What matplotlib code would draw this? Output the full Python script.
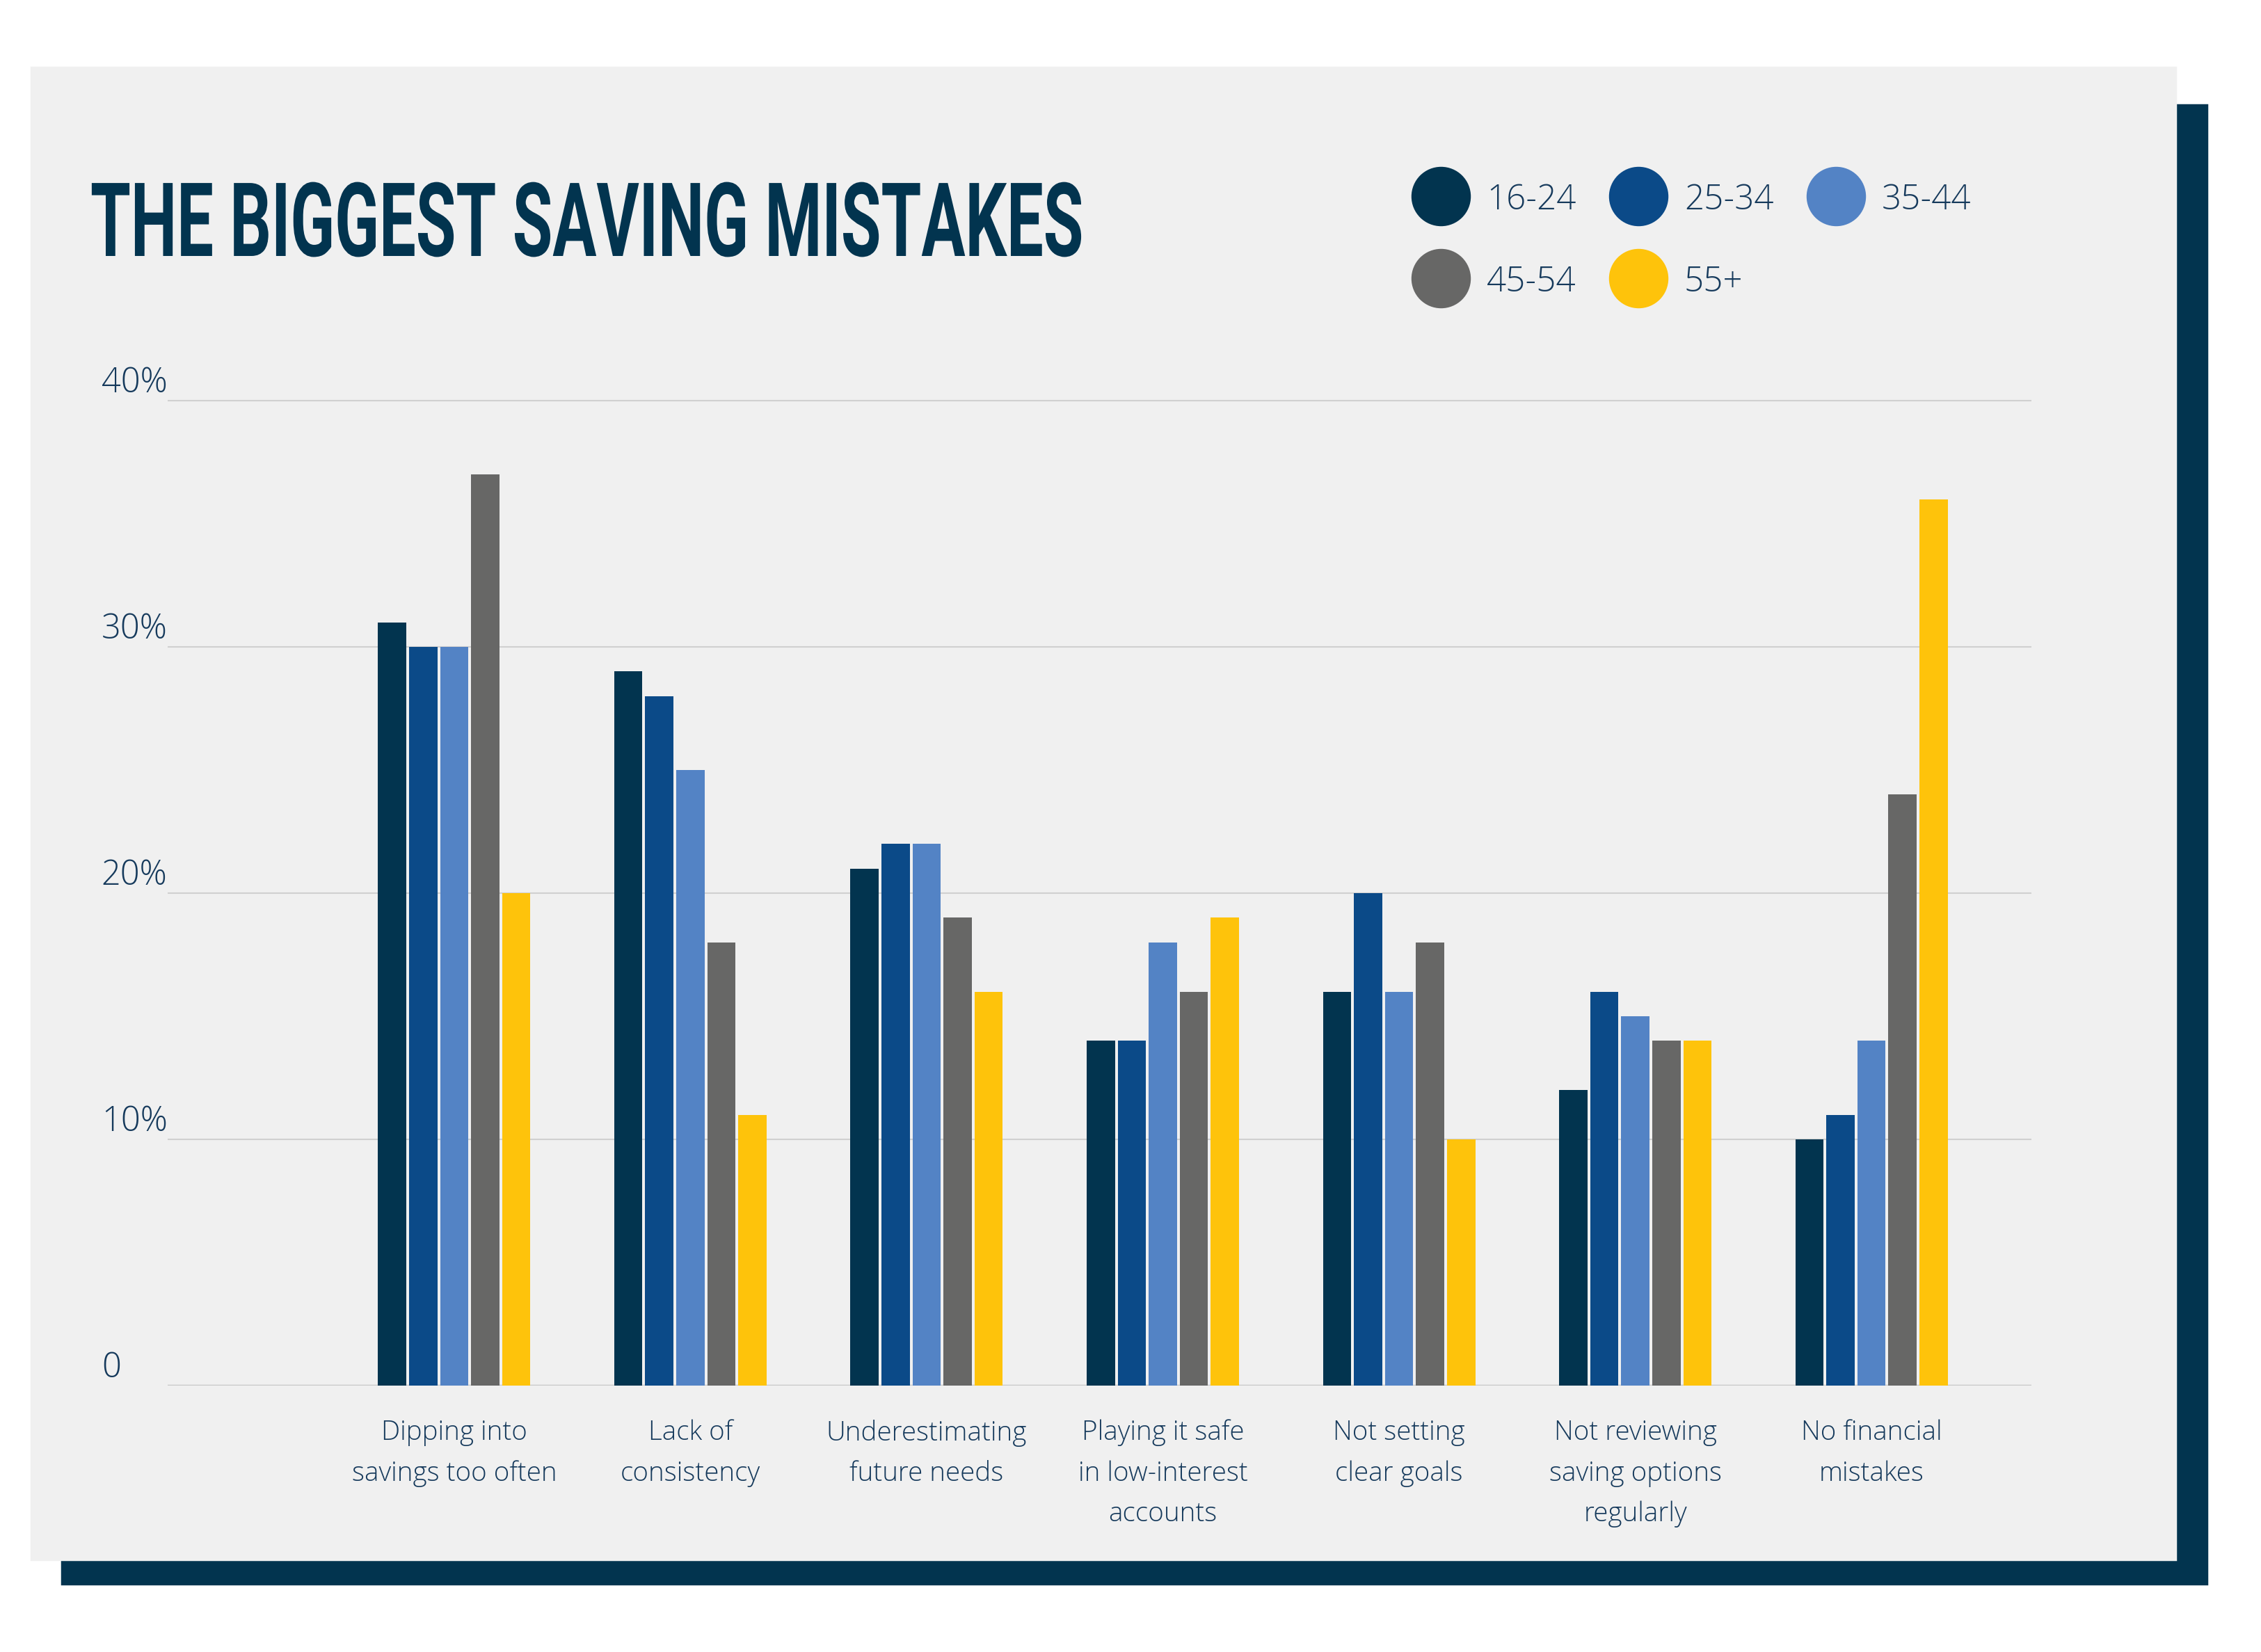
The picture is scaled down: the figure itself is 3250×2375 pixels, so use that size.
import matplotlib
matplotlib.use('Agg')
import matplotlib.pyplot as plt
from matplotlib.patches import Rectangle
from matplotlib.lines import Line2D
from matplotlib.text import Text
from matplotlib.patheffects import AbstractPathEffect
from matplotlib.transforms import Affine2D, Bbox
import numpy as np

# --- data ---
categories = ['Dipping into\nsavings too often', 'Lack of\nconsistency', 'Underestimating\nfuture needs',
              'Playing it safe\nin low-interest\naccounts', 'Not setting\nclear goals',
              'Not reviewing\nsaving options\nregularly', 'No financial\nmistakes']
age_groups = ['16-24', '25-34', '35-44', '45-54', '55+']
v_16_24 = [31, 29, 21, 14, 16, 12, 10]
v_25_34 = [30, 28, 22, 14, 20, 16, 11]
v_35_44 = [30, 25, 22, 18, 16, 15, 14]
v_45_54 = [37, 18, 19, 16, 18, 14, 24]
v_55 = [20, 11, 16, 19, 10, 14, 36]
series = [v_16_24, v_25_34, v_35_44, v_45_54, v_55]
colors = ['#02344f', '#0b4a88', '#5383c5', '#676766', '#fec30b']
y_ticks = [0, 10, 20, 30, 40]
y_ticklabels = ['0', '10%', '20%', '30%', '40%']

NAVY = '#02344f'
TXT = '#163a5c'
W, H = 3250, 2375


def fx(px): return px / W
def fy(py): return 1 - py / H


class Squeeze(AbstractPathEffect):
    # horizontal squeeze to fake a condensed title face
    def __init__(self, sx):
        super().__init__()
        self.sx = sx

    def draw_path(self, renderer, gc, tpath, affine, rgbFace=None):
        renderer.draw_path(gc, tpath, Affine2D().scale(self.sx, 1) + affine, rgbFace)


class CondensedText(Text):
    # left-anchored text drawn squeezed; extent reports the squeezed width
    def __init__(self, *args, sx=0.635, **kw):
        super().__init__(*args, **kw)
        self.sx = sx
        self.set_path_effects([Squeeze(sx)])

    def get_window_extent(self, renderer=None, dpi=None):
        bb = super().get_window_extent(renderer, dpi)
        return Bbox.from_extents(bb.x0, bb.y0, bb.x0 + bb.width * self.sx, bb.y1)


fig = plt.figure(figsize=(13, 9.5), dpi=250, facecolor='white')

# backdrop: navy shadow + light panel
fig.patches.append(Rectangle((fx(89), fy(2277)), fx(3172) - fx(89), (2277 - 151) / H,
                             transform=fig.transFigure, color=NAVY, zorder=-10))
fig.patches.append(Rectangle((fx(45), fy(2242)), fx(3127) - fx(45), (2242 - 97) / H,
                             transform=fig.transFigure, color='#f0f0f0', zorder=-9))

# axes: zero at 1992px, 10% = 354px
unit = 354 / H
ax = fig.add_axes([fx(241), fy(1992), fx(2920) - fx(241), 40.6 * unit / 10])
ax.set_facecolor('none')
ax.set_ylim(0, 40.6)
ax.set_xlim(-1.213, 6.677)

x = np.arange(len(categories))
pitch, width = 0.1314, 0.1196
for i, (vals, c, lab) in enumerate(zip(series, colors, age_groups)):
    ax.bar(x + (i - 2) * pitch, vals, width, color=c, label=lab, zorder=3)

ax.set_yticks(y_ticks)
ax.set_yticklabels(y_ticklabels, ha='left', va='bottom', fontsize=14, color=TXT,
                   family='Open Sans', weight='light')
ax.tick_params(axis='y', length=0, pad=27.4)
ax.set_xticks(x)
ax.set_xticklabels(categories, fontsize=11.1, color=TXT, family='Open Sans', weight='light',
                   linespacing=1.68)
ax.tick_params(axis='x', length=0, pad=14)
ax.yaxis.grid(True, color='#d0d0d0', lw=0.6)
ax.axhline(0, color='#c8c8c8', lw=1.0, zorder=2)
ax.set_axisbelow(True)
for s in ax.spines.values():
    s.set_visible(False)

# title
fig.add_artist(CondensedText(fx(130), fy(368), 'THE BIGGEST SAVING MISTAKES', sx=0.635,
                             family='Roboto', weight='bold', fontsize=42.5, color=NAVY,
                             ha='left', va='baseline', transform=fig.transFigure))

# legend: 3 + 2 dots
for i, (lab, c) in enumerate(zip(age_groups, colors)):
    r, k = divmod(i, 3)
    cx, cy = 2071 + k * 284, 282 + r * 118
    fig.add_artist(Line2D([fx(cx)], [fy(cy)], marker='o', markersize=23.6, color=c,
                          linestyle='none', transform=fig.transFigure))
    fig.text(fx(cx + 66), fy(cy + 19), lab, fontsize=14.2, color=TXT, family='Open Sans',
             weight='light', ha='left', va='baseline')

fig.savefig('out.png', dpi=250, facecolor='white')
